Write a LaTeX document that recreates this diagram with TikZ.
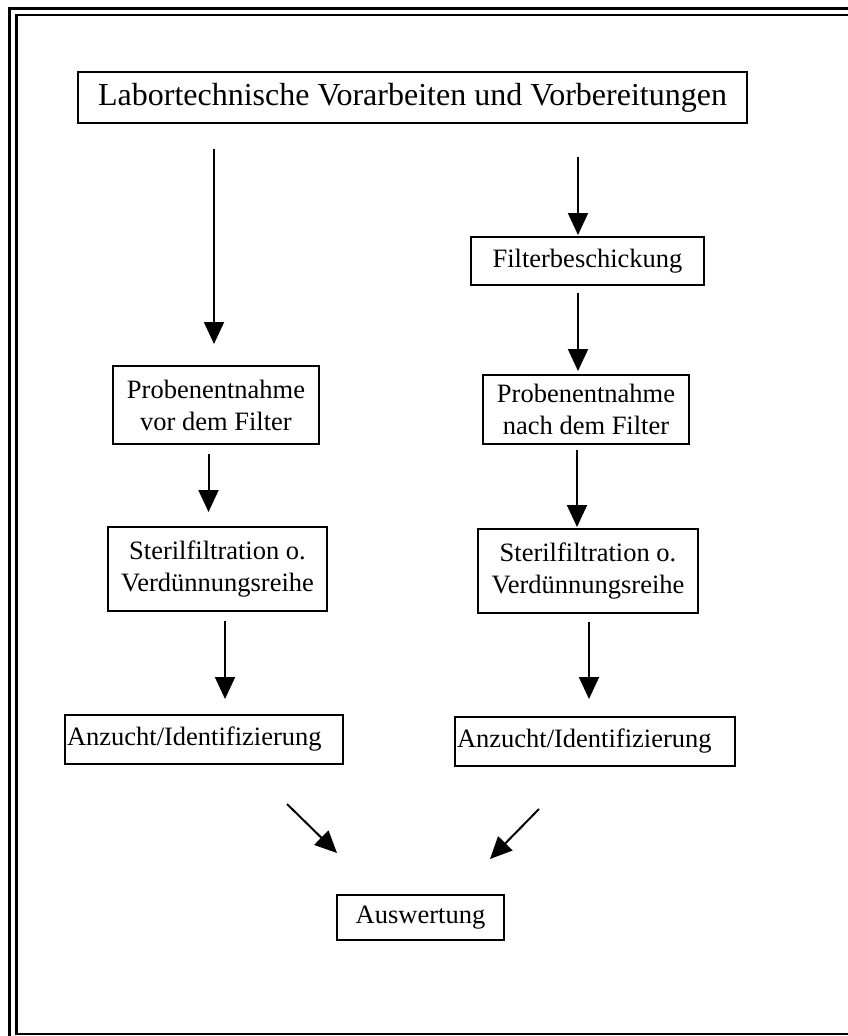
\documentclass[tikz,border=0pt]{standalone}
\usepackage{fontspec}
\setmainfont{Liberation Serif}
\usetikzlibrary{arrows.meta}
\begin{document}
\begin{tikzpicture}[x=1pt,y=-1pt,
    box/.style={draw,line width=2pt,align=center,inner sep=0pt,
      font=\fontsize{26.5}{32}\selectfont},
    arr/.style={line width=2pt,-{Triangle[width=20pt,length=22pt]}}]
    \useasboundingbox (0,0) rectangle (848,1036);
    \clip (0,0) rectangle (848,1036);
    % double frame
    \draw [line width=2.6pt] (9.5,8.5) rectangle (870,1060);
    \draw [line width=2.6pt] (16.5,15) rectangle (860,1034);
    % boxes
    \node [box,minimum width=669pt,minimum height=51pt,
      font=\fontsize{32}{38}\selectfont] (title) at (412.5,97.5)
      {Labortechnische Vorarbeiten und Vorbereitungen};
    \node [box,minimum width=206pt,minimum height=78pt] (pvor) at (216,405)
      {Probenentnahme\\vor dem Filter};
    \node [box,minimum width=233pt,minimum height=48pt] (fb) at (587.5,261)
      {Filterbeschickung};
    \node [box,minimum width=206pt,minimum height=69pt] (pnach) at (586,409.5)
      {Probenentnahme\\nach dem Filter};
    \node [box,minimum width=219pt,minimum height=84pt] (sl) at (217.5,569)
      {Sterilfiltration o.\\Verdünnungsreihe};
    \node [box,minimum width=220pt,minimum height=84pt] (sr) at (588,571)
      {Sterilfiltration o.\\Verdünnungsreihe};
    \node [box,text width=274pt,align=left,inner sep=2pt,minimum height=49pt] (al) at (204,739.5)
      {Anzucht/Identifizierung};
    \node [box,text width=276pt,align=left,inner sep=2pt,minimum height=49pt] (ar) at (595,741.5)
      {Anzucht/Identifizierung};
    \node [box,minimum width=167pt,minimum height=45pt] (ausw) at (420.5,917.5)
      {Auswertung};
    % arrows
    \draw [arr,shorten <=25pt,shorten >=21pt] ([xshift=-2pt]pvor.north |- title.south) -- ([xshift=-2pt]pvor.north);
    \draw [arr,shorten <=33pt,shorten >=1pt] ([xshift=-9.5pt]fb.north |- title.south) -- ([xshift=-9.5pt]fb.north);
    \draw [arr,shorten <=7pt,shorten >=3pt] ([xshift=-8pt]pnach.north |- fb.south) -- ([xshift=-8pt]pnach.north);
    \draw [arr,shorten <=9pt,shorten >=14pt] ([xshift=-9pt]sl.north |- pvor.south) -- ([xshift=-9pt]sl.north);
    \draw [arr,shorten <=5pt,shorten >=1pt] ([xshift=-11pt]sr.north |- pnach.south) -- ([xshift=-11pt]sr.north);
    \draw [arr,shorten <=9pt,shorten >=15pt] ([xshift=21pt]al.north |- sl.south) -- ([xshift=21pt]al.north);
    \draw [arr,shorten <=8pt,shorten >=17pt] ([xshift=-6pt]ar.north |- sr.south) -- ([xshift=-6pt]ar.north);
    \draw [arr] ([xshift=-57pt,yshift=-39pt]al.south east) -- ([xshift=1pt,yshift=41pt]ausw.north west);
    \draw [arr] ([xshift=85pt,yshift=-42pt]ar.south west) -- ([xshift=-15pt,yshift=35pt]ausw.north east);
\end{tikzpicture}
\end{document}
